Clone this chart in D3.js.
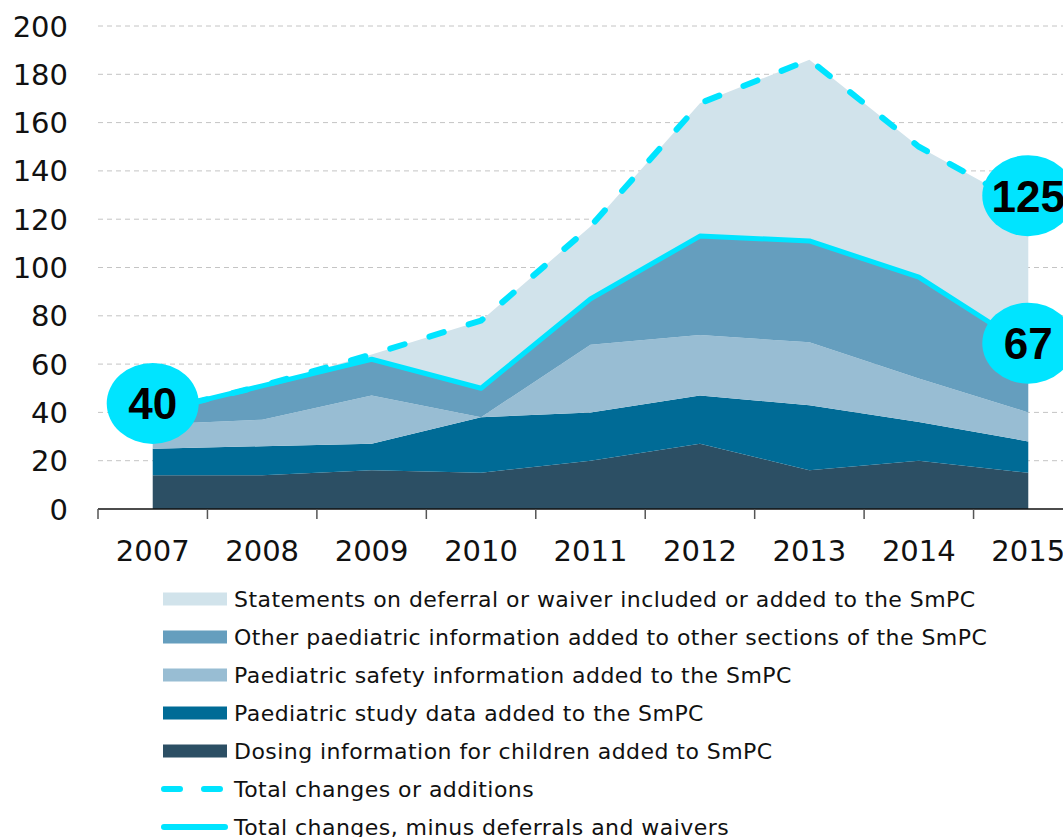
<!DOCTYPE html>
<html>
<head>
<meta charset="utf-8">
<script src="https://cdn.jsdelivr.net/npm/d3@7"></script>
<style>
  html, body { margin: 0; padding: 0; background: #fff; }
  svg { display: block; font-family: "DejaVu Sans", Verdana, sans-serif; }
</style>
</head>
<body>
<svg id="chart" width="1063" height="837"></svg>
<script>
// Years on the x axis
const years = ["2007", "2008", "2009", "2010", "2011", "2012", "2013", "2014", "2015"];

// Stacked series (counts per year), bottom to top
const dosing   = [14, 14, 16, 15, 20, 27, 16, 20, 15];
const study    = [11, 12, 11, 23, 20, 20, 27, 16, 13];
const safety   = [10, 11, 20,  0, 28, 25, 26, 18, 12];
const other    = [ 5, 14, 15, 12, 19, 41, 42, 42, 27];
const deferral = [ 0,  0,  2, 28, 30, 55, 75, 54, 58];

// Y axis tick labels
const yTicks = [0, 20, 40, 60, 80, 100, 120, 140, 160, 180, 200];

// Series names (legend order, top to bottom)
const seriesNames = [
  "Statements on deferral or waiver included or added to the SmPC",
  "Other paediatric information added to other sections of the SmPC",
  "Paediatric safety information added to the SmPC",
  "Paediatric study data added to the SmPC",
  "Dosing information for children added to SmPC"
];
const lineNames = [
  "Total changes or additions",
  "Total changes, minus deferrals and waivers"
];

// Highlighted values: [year, which total line, value]
const callouts = [
  ["2007", "net", 40],
  ["2015", "total", 125],
  ["2015", "net", 67]
];
// Vertical nudge of each callout bubble above its point (px)
const calloutLift = { "2007-net": 9, "2015-total": 11.5, "2015-net": 4 };

const keys = ["dosing", "study", "safety", "other", "deferral"];
const colors = {
  dosing: "#2c4f64",
  study: "#006b96",
  safety: "#98bdd3",
  other: "#659ebe",
  deferral: "#d1e3eb"
};
const cyan = "#00e4ff";

const rows = years.map((y, i) => ({
  year: y,
  dosing: dosing[i], study: study[i], safety: safety[i],
  other: other[i], deferral: deferral[i]
}));
rows.forEach(r => {
  r.net = r.dosing + r.study + r.safety + r.other;
  r.total = r.net + r.deferral;
});

const svg = d3.select("#chart");

const x = d3.scaleBand().domain(years).range([98, 1083]).paddingInner(0).paddingOuter(0);
const cx = d => x(d) + x.bandwidth() / 2;
const y = d3.scaleLinear().domain([0, 200]).range([509, 26]);

// Gridlines
svg.append("g")
  .selectAll("line")
  .data(yTicks.filter(t => t > 0))
  .join("line")
  .attr("x1", 98).attr("x2", 1063)
  .attr("y1", d => y(d)).attr("y2", d => y(d))
  .attr("stroke", "#c4c4c4")
  .attr("stroke-width", 1)
  .attr("stroke-dasharray", "5,4");

// Stacked areas
const stack = d3.stack().keys(keys);
const layers = stack(rows);
const area = d3.area()
  .x(d => cx(d.data.year))
  .y0(d => y(d[0]))
  .y1(d => y(d[1]));

svg.append("g")
  .selectAll("path")
  .data(layers)
  .join("path")
  .attr("d", area)
  .attr("fill", d => colors[d.key]);

// Total lines
const lineNet = d3.line().x(d => cx(d.year)).y(d => y(d.net));
const lineTotal = d3.line().x(d => cx(d.year)).y(d => y(d.total));

svg.append("path")
  .attr("d", lineNet(rows))
  .attr("fill", "none")
  .attr("stroke", cyan)
  .attr("stroke-width", 5)
  .attr("stroke-linejoin", "round");

svg.append("path")
  .attr("d", lineTotal(rows))
  .attr("fill", "none")
  .attr("stroke", cyan)
  .attr("stroke-width", 6)
  .attr("stroke-linecap", "round")
  .attr("stroke-dasharray", "15,26");

// X axis
const axis = svg.append("g");
axis.append("line")
  .attr("x1", 98).attr("x2", 1063)
  .attr("y1", 509).attr("y2", 509)
  .attr("stroke", "#111").attr("stroke-width", 1.5);
axis.selectAll("line.tick")
  .data(years)
  .join("line")
  .attr("class", "tick")
  .attr("x1", d => x(d)).attr("x2", d => x(d))
  .attr("y1", 509).attr("y2", 519)
  .attr("stroke", "#555").attr("stroke-width", 1.5);
axis.selectAll("text")
  .data(years)
  .join("text")
  .attr("x", d => cx(d))
  .attr("y", 561)
  .attr("text-anchor", "middle")
  .attr("font-size", 29)
  .attr("fill", "#111")
  .text(d => d);

// Y axis labels
svg.append("g")
  .selectAll("text")
  .data(yTicks)
  .join("text")
  .attr("x", 68)
  .attr("y", d => y(d) + 10.5)
  .attr("text-anchor", "end")
  .attr("font-size", 29)
  .attr("fill", "#111")
  .text(d => d);

// Value callouts
const co = svg.append("g");
callouts.forEach(([yr, which, v]) => {
  const px = cx(yr), py = y(v) - calloutLift[yr + "-" + which];
  co.append("ellipse")
    .attr("cx", px).attr("cy", py)
    .attr("rx", 46).attr("ry", 40.5)
    .attr("fill", cyan);
  co.append("text")
    .attr("x", px).attr("y", py + 16)
    .attr("text-anchor", "middle")
    .attr("font-family", "'Liberation Sans', Arial, sans-serif")
    .attr("font-weight", "bold")
    .attr("font-size", 44)
    .attr("fill", "#000")
    .text(v);
});

// Legend
const legend = svg.append("g")
  .attr("font-size", 22)
  .attr("letter-spacing", 0.45)
  .attr("fill", "#111");
const legendKeys = ["deferral", "other", "safety", "study", "dosing"];
legendKeys.forEach((k, i) => {
  const cyRow = 599 + i * 38;
  legend.append("rect")
    .attr("x", 163).attr("y", cyRow - 6.5)
    .attr("width", 64).attr("height", 13)
    .attr("fill", colors[k]);
  legend.append("text")
    .attr("x", 234).attr("y", cyRow + 8)
    .text(seriesNames[i]);
});
lineNames.forEach((name, j) => {
  const cyRow = 599 + (5 + j) * 38;
  legend.append("line")
    .attr("x1", 164).attr("x2", j === 0 ? 223 : 225)
    .attr("y1", cyRow).attr("y2", cyRow)
    .attr("stroke", cyan)
    .attr("stroke-width", 6)
    .attr("stroke-linecap", "round")
    .attr("stroke-dasharray", j === 0 ? "16,24" : null);
  legend.append("text")
    .attr("x", 234).attr("y", cyRow + 8)
    .text(name);
});
</script>
</body>
</html>
